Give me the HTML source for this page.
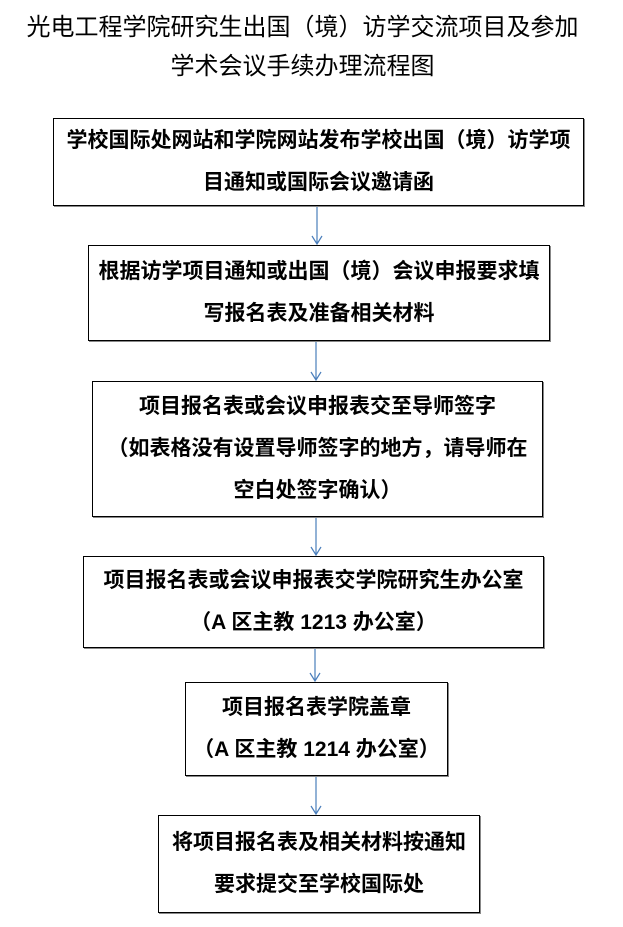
<!DOCTYPE html>
<html><head><meta charset="utf-8"><style>
body{margin:0;width:623px;height:927px;background:#fff;position:relative;overflow:hidden;font-family:"Liberation Sans","Noto Sans CJK SC",sans-serif;}
.t{position:absolute;left:-9px;width:623px;text-align:center;font-size:24px;color:#000;}
.b{position:absolute;box-sizing:border-box;border:1.5px solid #000;display:flex;flex-direction:column;justify-content:center;align-items:center;text-align:center;font-weight:bold;font-size:21px;line-height:42px;color:#000;box-shadow:1px 1px 0 #888;white-space:nowrap;}
svg{position:absolute;left:0;top:0;}
</style></head><body>
<div class="t" style="top:7px">光电工程学院研究生出国（境）访学交流项目及参加</div>
<div class="t" style="top:46px">学术会议手续办理流程图</div>
<div class="b" style="left:53px;top:118px;width:531px;height:88px">学校国际处网站和学院网站发布学校出国（境）访学项<br>目通知或国际会议邀请函</div>
<div class="b" style="left:88px;top:245px;width:462px;height:96px">根据访学项目通知或出国（境）会议申报要求填<br>写报名表及准备相关材料</div>
<div class="b" style="left:92px;top:381px;width:451px;height:136px">项目报名表或会议申报表交至导师签字<br>（如表格没有设置导师签字的地方，请导师在<br>空白处签字确认）</div>
<div class="b" style="left:83px;top:556px;width:461px;height:92px">项目报名表或会议申报表交学院研究生办公室<br>（A 区主教 1213 办公室）</div>
<div class="b" style="left:185px;top:682px;width:263px;height:94px">项目报名表学院盖章<br>（A 区主教 1214 办公室）</div>
<div class="b" style="left:158px;top:815px;width:322px;height:98px">将项目报名表及相关材料按通知<br>要求提交至学校国际处</div>
<svg width="623" height="927" fill="none" stroke="#4a7ebb" stroke-width="1.2">
<path d="M317 207V244M312 236L317 244L322 236"/>
<path d="M316 342V380M311 372L316 380L321 372"/>
<path d="M316 518V555M311 547L316 555L321 547"/>
<path d="M315 649V681M310 673L315 681L320 673"/>
<path d="M316 777V814M311 806L316 814L321 806"/>
</svg>
</body></html>
